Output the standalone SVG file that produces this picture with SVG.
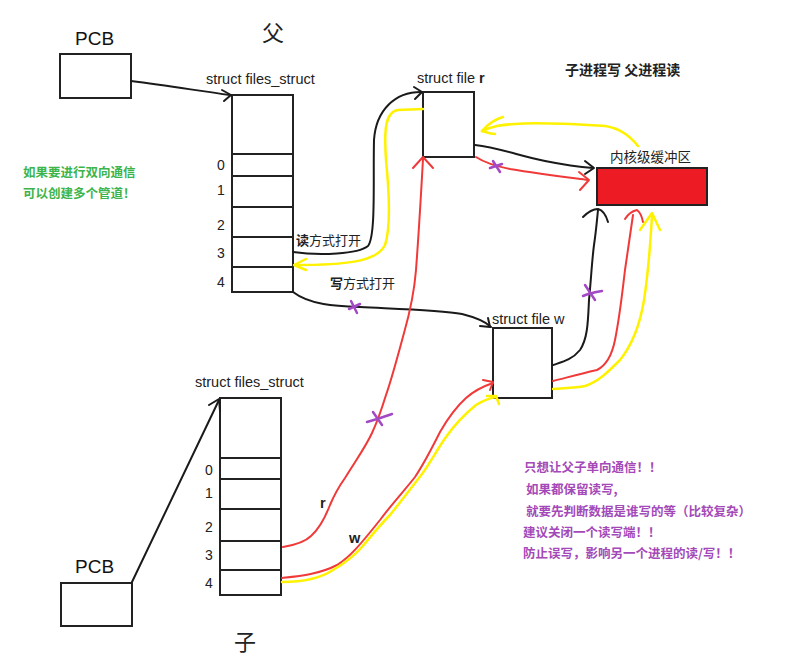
<svg xmlns="http://www.w3.org/2000/svg" width="793" height="664" viewBox="0 0 793 664">
<style>
.box{fill:#fff;stroke:#222;stroke-width:2}
.t{font-family:"Noto Sans CJK SC","Liberation Sans",sans-serif;fill:#222}
.lbl{font-family:"Liberation Sans","Noto Sans CJK SC",sans-serif;font-size:14.5px;fill:#222}
.num{font-family:"Liberation Sans",sans-serif;font-size:14px;fill:#222}
.big{font-family:"Liberation Sans",sans-serif;font-size:19px;fill:#111}
.k{fill:none;stroke:#1a1a1a;stroke-width:2;stroke-linecap:round;stroke-linejoin:round}
.rd{fill:none;stroke:#f03a3a;stroke-width:2;stroke-linecap:round;stroke-linejoin:round}
.yl{fill:none;stroke:#fff200;stroke-width:2.5;stroke-linecap:round;stroke-linejoin:round}
.x{fill:none;stroke:#a349c4;stroke-width:2.5;stroke-linecap:round}
.purple{font-family:"Noto Sans CJK SC",sans-serif;font-size:12.5px;font-weight:bold;fill:#a349b8}
.green{font-family:"Noto Sans CJK SC",sans-serif;font-size:12.5px;font-weight:bold;fill:#3cb44b}
</style>
<rect width="793" height="664" fill="#fff"/>

<g id="pcb-parent">
<text class="big" x="75" y="45">PCB</text>
<rect class="box" x="60" y="54" width="71" height="44"/>
</g>
<text class="t" x="262" y="41" font-size="22">父</text>

<g id="files-parent">
<text class="lbl" x="206" y="84">struct files_struct</text>
<rect class="box" x="232" y="95" width="61" height="197"/>
<path d="M232 154H293M232 176H293M232 207H293M232 237H293M232 267H293" stroke="#222" stroke-width="2"/>
<text class="num" x="217" y="170">0</text>
<text class="num" x="217" y="195">1</text>
<text class="num" x="217" y="230">2</text>
<text class="num" x="217" y="258">3</text>
<text class="num" x="217" y="287">4</text>
</g>

<g id="file-r">
<text class="lbl" x="417" y="83">struct file <tspan font-weight="bold">r</tspan></text>
<rect class="box" x="423" y="92" width="51" height="65"/>
</g>

<g id="kernel-buffer">
<text class="t" x="610" y="162" font-size="13.5">内核级缓冲区</text>
<rect x="597" y="168" width="110" height="37" fill="#ed1c24" stroke="#222" stroke-width="2"/>
</g>

<g id="file-w">
<text class="lbl" x="492" y="324">struct file w</text>
<rect class="box" x="493" y="328" width="59" height="70"/>
</g>

<g id="files-child">
<text class="lbl" x="195" y="387">struct files_struct</text>
<rect class="box" x="220" y="398" width="61" height="197"/>
<path d="M220 458H281M220 479H281M220 509H281M220 541H281M220 570H281" stroke="#222" stroke-width="2"/>
<text class="num" x="205" y="475">0</text>
<text class="num" x="205" y="498">1</text>
<text class="num" x="205" y="532">2</text>
<text class="num" x="205" y="560">3</text>
<text class="num" x="205" y="588">4</text>
</g>

<g id="pcb-child">
<text class="big" x="75" y="573">PCB</text>
<rect class="box" x="61" y="583" width="71" height="43"/>
</g>
<text class="t" x="234" y="650" font-size="22">子</text>

<text class="t" x="565" y="75" font-size="14" font-weight="bold">子进程写 父进程读</text>

<g id="notes">
<text class="green" x="23" y="177">如果要进行双向通信</text>
<text class="green" x="23" y="198">可以创建多个管道！</text>
<text class="purple" x="524" y="472">只想让父子单向通信！！</text>
<text class="purple" x="526" y="494">如果都保留读写,</text>
<text class="purple" x="526" y="516">就要先判断数据是谁写的等（比较复杂）</text>
<text class="purple" x="523" y="537">建议关闭一个读写端！！</text>
<text class="purple" x="523" y="558">防止误写，影响另一个进程的读/写！！</text>
</g>

<g id="connectors">
<!-- PCB -> files_struct parent -->
<path class="k" d="M131 81 C170 86 200 91 230 95"/>
<path class="k" d="M222 90 L231 95 L224 101"/>
<!-- PCB child -> files_struct child -->
<path class="k" d="M132 582 L219 400"/>
<path class="k" d="M209 405 L219 399 L220 411"/>

<!-- read open: fd3 -> file r -->
<text class="t" x="296" y="245" font-size="13"><tspan font-weight="bold">读</tspan>方式打开</text>
<path class="k" d="M293 252 C320 256 358 254 368 246 C376 236 373 180 374 140 C376 110 395 92 421 92"/>
<path class="k" d="M414 87 L422 92 L415 99"/>
<!-- yellow file r -> fd4 -->
<path class="yl" d="M423 109 L398 110 C385 112 384 130 386 160 C390 200 390 230 385 245 C377 262 345 265 295 265"/>
<path class="yl" d="M306 259 L294 265 L306 270"/>

<!-- write open: fd4 bottom -> file w -->
<text class="t" x="330" y="288" font-size="13"><tspan font-weight="bold">写</tspan>方式打开</text>
<path class="k" d="M293 292 C310 305 335 306 360 307 C400 309 440 310 462 314 C478 318 486 322 491 327"/>
<path class="k" d="M480 326 L490 327 L488 318"/>
<path class="x" d="M351 301 L357 313 M349 309 L360 304"/>

<!-- yellow kernel -> file r -->
<path class="yl" d="M638 146 C630 136 620 128 605 126 C570 124 540 122 515 124 C500 125 493 126 482 131"/>
<path class="yl" d="M482 131 C488 124 496 119 503 117 M482 131 C488 133 492 134 495 134"/>

<!-- black file r -> kernel -->
<path class="k" d="M475 145 C500 148 520 156 545 161 C565 165 580 167 593 168"/>
<path class="k" d="M585 161 L594 168 L585 174"/>
<!-- red file r -> kernel -->
<path class="rd" d="M476 157 C485 163 495 166 510 169 C540 174 565 177 588 180"/>
<path class="rd" d="M579 172 L589 180 L580 190"/>
<path class="x" d="M493 161 L500 172 M490 168 L502 164"/>

<!-- red child fd3 -> file r -->
<path class="rd" d="M283 547 C295 545 305 542 311 536 C320 528 325 518 330 505 C335 493 340 485 345 478 C356 460 365 448 372 433 C378 420 382 408 386 395 C392 378 398 355 404 333 C410 312 414 295 416 270 C419 230 421 195 423 159"/>
<path class="rd" d="M413 168 L423 157 L433 168"/>
<path class="x" d="M373 412 L382 425 M367 422 C375 420 383 417 392 414"/>
<text class="lbl" x="320" y="508" font-weight="bold" font-size="13">r</text>

<!-- red child fd4 -> file w -->
<path class="rd" d="M282 578 C300 576 320 574 337 565 C350 557 360 545 380 520 C395 500 405 490 415 477 C425 462 432 448 440 432 C448 418 455 408 466 398 C475 390 484 386 493 383"/>
<path class="rd" d="M483 380 L493 382 L490 390"/>
<text class="lbl" x="349" y="543" font-weight="bold" font-size="13">w</text>
<!-- yellow child fd4 -> file w -->
<path class="yl" d="M282 582 C300 582 318 580 333 570 C345 563 355 555 362 547 C372 535 380 525 390 515 C402 500 412 487 422 474 C432 460 438 448 446 437 C455 424 465 414 476 405 C484 400 490 398 496 397"/>
<path class="yl" d="M487 396 L496 396 L499 404"/>

<!-- black file w -> kernel -->
<path class="k" d="M553 365 C562 362 572 360 580 350 C588 338 588 320 589 300 C591 280 592 260 594 245 C596 232 597 220 598 210"/>
<path class="k" d="M583 217 C588 212 593 209 598 209 C602 210 606 215 608 222"/>
<path class="x" d="M585 285 L595 300 M583 296 C590 293 596 292 602 291"/>
<!-- red file w -> kernel -->
<path class="rd" d="M553 381 C562 379 575 375 597 370 C607 365 612 355 615 340 C620 315 622 295 625 270 C628 250 630 235 633 215"/>
<path class="rd" d="M625 219 C628 214 633 211 637 210 C640 212 642 217 643 222"/>
<!-- yellow file w -> kernel -->
<path class="yl" d="M553 389 C565 388 575 388 585 386 C598 382 608 372 620 360 C632 345 640 325 644 300 C648 275 650 250 652 216"/>
<path class="yl" d="M640 230 L652 213 L660 230"/>
</g>
</svg>
